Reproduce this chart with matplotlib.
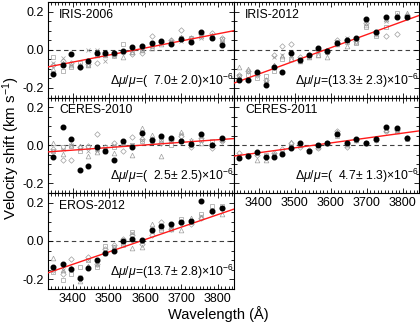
import numpy as np
import matplotlib
matplotlib.use("Agg")
import matplotlib.pyplot as plt
from matplotlib.ticker import MultipleLocator, FixedLocator

plt.rcParams['font.family'] = ['Liberation Sans', 'DejaVu Sans']
plt.rcParams['mathtext.fontset'] = 'custom'
plt.rcParams['mathtext.rm'] = 'Liberation Sans'
plt.rcParams['mathtext.it'] = 'Liberation Sans:italic'

wavelength = [3347, 3372, 3396, 3420, 3443, 3466, 3490, 3514, 3539, 3565,
              3591, 3618, 3644, 3670, 3698, 3726, 3754, 3783, 3813]

names = ["IRIS-2006", "IRIS-2012", "CERES-2010", "CERES-2011", "EROS-2012"]
dmu = [7.0, 13.3, 2.5, 4.7, 13.7]
dmu_err = [2.0, 2.3, 2.5, 1.3, 2.8]
# fit line: slope (km/s per 100 A) and zero-crossing wavelength
fit_slope = [0.037, 0.069, 0.0136, 0.0257, 0.0647]
fit_zero = [3575, 3585, 3588, 3553, 3588]

black_iris2006 = [-0.128, -0.078, -0.024, -0.088, -0.06, -0.017, -0.016, -0.017, -0.009, 0.017,
                  0.019, 0.036, 0.045, 0.028, 0.055, 0.041, 0.095, 0.059, 0.024]
sq_iris2006 = [-0.04, -0.11, -0.09, -0.07, -0.08, -0.03, -0.03, -0.035, 0.031, -0.01,
               0.0, 0.02, 0.04, 0.04, 0.06, 0.06, 0.08, 0.07, 0.055]
tri_iris2006 = [-0.1, -0.07, -0.08, -0.08, -0.08, -0.03, -0.03, -0.02, -0.04, -0.01,
                0.0, 0.01, 0.03, 0.05, 0.065, 0.06, 0.07, 0.075, 0.05]
dia_iris2006 = [-0.08, -0.06, -0.07, -0.09, -0.075, -0.069, -0.02, -0.03, -0.01, -0.02,
                -0.017, 0.072, 0.04, 0.05, 0.103, 0.06, 0.08, 0.09, 0.06]
crs_iris2006 = [-0.07, -0.041, -0.08, -0.08, 0.0, 0.0, -0.06, -0.03, -0.01, -0.005,
                0.01, 0.025, 0.04, 0.04, 0.045, 0.05, 0.06, 0.06, 0.04]

black_iris2012 = [-0.159, -0.159, -0.116, -0.183, -0.09, -0.116, -0.017, -0.055, -0.026, 0.009,
                  -0.009, 0.036, 0.053, 0.059, 0.16, 0.095, 0.172, 0.169, 0.172]
sq_iris2012 = [-0.14, -0.13, -0.15, -0.14, -0.11, -0.048, -0.05, -0.06, -0.04, -0.03,
               -0.01, 0.04, 0.04, 0.035, 0.12, 0.07, 0.12, 0.19, 0.17]
tri_iris2012 = [-0.09, -0.1, -0.12, -0.16, -0.08, -0.034, -0.05, -0.06, -0.04, -0.03,
                -0.04, 0.03, 0.02, 0.04, 0.13, 0.08, 0.16, 0.18, 0.19]
dia_iris2012 = [-0.13, -0.11, -0.13, -0.16, -0.03, 0.02, 0.031, -0.04, -0.03, 0.0,
                -0.01, 0.05, 0.05, 0.045, 0.14, 0.09, 0.07, 0.083, 0.18]
crs_iris2012 = [-0.14, -0.11, -0.12, -0.17, -0.04, -0.03, -0.03, -0.05, -0.03, 0.005,
                -0.005, 0.04, 0.06, 0.05, 0.14, 0.08, 0.15, 0.17, 0.175]

black_ceres2010 = [-0.061, 0.096, 0.031, -0.127, -0.11, -0.009, -0.031, -0.078, 0.023, -0.009,
                   0.064, 0.03, 0.049, 0.037, 0.024, 0.009, 0.057, 0.0, 0.04]
sq_ceres2010 = [-0.03, -0.01, -0.005, -0.031, -0.01, -0.02, -0.02, -0.01, 0.01, 0.0,
                0.02, 0.02, 0.03, 0.0, 0.02, 0.0, 0.03, 0.02, 0.03]
tri_ceres2010 = [0.014, -0.047, 0.0, -0.005, -0.057, -0.037, -0.03, -0.038, 0.01, -0.049,
                 0.089, 0.052, -0.056, 0.03, 0.071, 0.03, 0.012, 0.005, 0.04]
dia_ceres2010 = [-0.02, -0.075, -0.078, -0.01, -0.005, 0.057, -0.01, 0.01, -0.03, 0.045,
                 0.035, 0.035, 0.01, 0.03, 0.05, -0.01, 0.04, -0.015, 0.02]
crs_ceres2010 = [-0.03, -0.02, 0.0, -0.02, -0.03, -0.03, -0.02, 0.0, 0.01, 0.0,
                 0.03, 0.03, 0.03, 0.02, 0.06, 0.02, 0.05, 0.0, 0.03]

black_ceres2011 = [-0.068, -0.056, -0.037, -0.061, -0.064, -0.047, -0.016, 0.010, -0.03, 0.003,
                   0.010, 0.057, 0.01, 0.035, 0.014, 0.035, 0.096, 0.092, 0.037]
sq_ceres2011 = [-0.06, -0.05, -0.04, -0.05, -0.05, -0.04, -0.01, 0.0, -0.03, 0.0,
                0.01, 0.05, 0.01, 0.03, 0.01, 0.03, 0.08, 0.08, 0.035]
tri_ceres2011 = [-0.06, -0.05, -0.075, -0.075, -0.045, -0.04, 0.015, 0.0, -0.03, -0.01,
                 0.01, 0.07, 0.0, 0.03, 0.01, 0.04, 0.08, 0.075, 0.04]
dia_ceres2011 = [-0.04, -0.055, -0.05, -0.06, -0.04, -0.02, 0.014, -0.01, -0.025, -0.017,
                 0.01, 0.075, -0.009, 0.03, 0.01, 0.03, 0.075, 0.078, 0.04]
crs_ceres2011 = [-0.05, -0.05, -0.045, -0.055, -0.05, -0.035, -0.01, 0.005, -0.03, 0.0,
                 0.01, 0.06, 0.005, 0.03, 0.01, 0.035, 0.085, 0.085, 0.04]

black_eros2012 = [-0.135, -0.12, -0.145, -0.195, -0.142, -0.101, -0.065, -0.051, 0.0, 0.012,
                  0.007, 0.056, 0.08, 0.087, 0.101, 0.104, 0.209, 0.154, 0.174]
sq_eros2012 = [-0.16, -0.205, -0.17, -0.138, -0.1, -0.135, -0.026, -0.03, -0.02, 0.046,
               0.0, 0.05, 0.055, 0.07, 0.115, 0.1, 0.14, 0.18, 0.18]
tri_eros2012 = [-0.09, -0.15, -0.14, -0.21, -0.13, -0.12, -0.06, -0.03, -0.01, -0.034,
                -0.03, 0.089, 0.07, 0.06, 0.058, 0.12, 0.123, 0.16, 0.14]
dia_eros2012 = [-0.15, -0.17, -0.094, -0.2, -0.082, -0.12, -0.04, -0.02, 0.01, 0.03,
                -0.014, 0.032, 0.097, 0.06, 0.095, 0.09, 0.12, 0.15, 0.17]
crs_eros2012 = [-0.14, -0.15, -0.15, -0.19, -0.1, -0.12, -0.05, -0.04, 0.005, 0.04,
                -0.005, 0.06, 0.08, 0.07, 0.1, 0.1, 0.13, 0.16, 0.17]

black = [black_iris2006, black_iris2012, black_ceres2010, black_ceres2011, black_eros2012]
squares = [sq_iris2006, sq_iris2012, sq_ceres2010, sq_ceres2011, sq_eros2012]
triangles = [tri_iris2006, tri_iris2012, tri_ceres2010, tri_ceres2011, tri_eros2012]
diamonds = [dia_iris2006, dia_iris2012, dia_ceres2010, dia_ceres2011, dia_eros2012]
crosses = [crs_iris2006, crs_iris2012, crs_ceres2010, crs_ceres2011, crs_eros2012]

xlim = (3332, 3845)
ylim = (-0.25, 0.25)

W, H = 420, 327
fig = plt.figure(figsize=(W / 100, H / 100), dpi=100)

def px_axes(x0, y0, x1, y1):
    return fig.add_axes([x0 / W, 1 - y1 / H, (x1 - x0) / W, (y1 - y0) / H])

rows = [(2, 97.5), (97.5, 193), (193, 289)]
cols = [(48, 234), (234, 419)]
positions = [(0, 0), (0, 1), (1, 0), (1, 1), (2, 0)]

gray = '0.62'
for i, (r, c) in enumerate(positions):
    ax = px_axes(cols[c][0], rows[r][0], cols[c][1], rows[r][1])
    ax.set_xlim(*xlim)
    ax.set_ylim(*ylim)
    ax.axhline(0, color='0.25', ls=(0, (4, 3)), lw=0.8, zorder=1)
    xs = np.array(wavelength)
    ax.plot(xs, squares[i], ls='none', marker='s', ms=3.2, mfc='none', mec=gray, mew=0.5, zorder=2)
    ax.plot(xs, triangles[i], ls='none', marker='^', ms=3.4, mfc='none', mec=gray, mew=0.5, zorder=2)
    ax.plot(xs, diamonds[i], ls='none', marker='D', ms=2.8, mfc='none', mec=gray, mew=0.5, zorder=2)
    ax.plot(xs, crosses[i], ls='none', marker='x', ms=3.0, mec=gray, mew=0.5, zorder=2)
    lx = np.array(xlim)
    ax.plot(lx, fit_slope[i] * (lx - fit_zero[i]) / 100.0, color='#ff1a1a', lw=1.0, zorder=3)
    ax.plot(xs, black[i], ls='none', marker='o', ms=3.3, mfc='black', mec='black', zorder=4)

    ax.text(0.06, 0.93, names[i], transform=ax.transAxes, fontsize=8.8, va='top', ha='left')
    label = r'$\Delta\mu/\mu$=(%4.1f± %3.1f)×10$^{-6}$' % (dmu[i], dmu_err[i])
    label = label.replace('( ', '(  ')
    ax.text(0.995, 0.08, label, transform=ax.transAxes, fontsize=8.8, va='bottom', ha='right')

    ax.yaxis.set_major_locator(FixedLocator([-0.2, 0.0, 0.2]))
    ax.yaxis.set_minor_locator(MultipleLocator(0.05))
    ax.xaxis.set_major_locator(MultipleLocator(100))
    ax.xaxis.set_minor_locator(MultipleLocator(10))
    ax.tick_params(which='both', direction='in', top=True, right=True, width=0.6)
    ax.tick_params(which='major', length=3.5, labelsize=9, pad=3)
    ax.tick_params(which='minor', length=2)
    for s in ax.spines.values():
        s.set_linewidth(0.8)
    if c == 1:
        ax.tick_params(labelleft=False)
    else:
        ax.set_yticklabels(['-0.2', '0.0', '0.2'])
    if not ((r == 2 and c == 0) or (r == 1 and c == 1)):
        ax.tick_params(labelbottom=False)

fig.text(11 / W, 1 - 148 / H, r'Velocity shift (km s$^{-1}$)', rotation=90,
         fontsize=10.8, ha='center', va='center')
fig.text(218 / W, 1 - 314 / H, 'Wavelength (Å)', fontsize=10.5, ha='center', va='center')

fig.savefig('out.png', dpi=100)
